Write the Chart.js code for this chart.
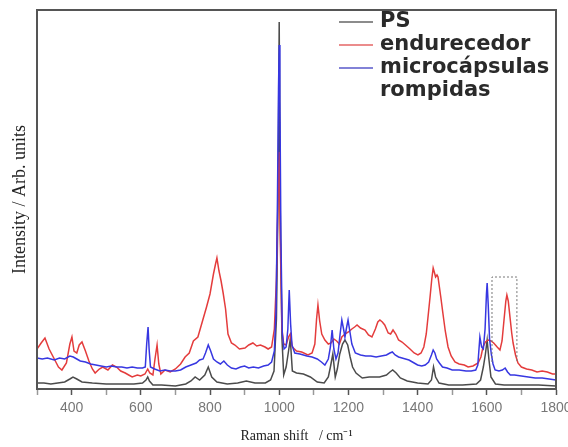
<!DOCTYPE html>
<html>
<head>
<meta charset="utf-8">
<script src="https://cdn.jsdelivr.net/npm/chart.js@4.4.1/dist/chart.umd.min.js"></script>
<style>
  html, body { margin: 0; padding: 0; background: #fff; }
  canvas { display: block; }
</style>
</head>
<body>
<canvas id="ramanChart" width="568" height="447"></canvas>
<script>
// Raman shift (cm-1) vs intensity (arb. units)
const psSpectrum = [
  [300, 6], [320, 6], [340, 5], [360, 6], [380, 7], [395, 10], [404, 12], [415, 10], [430, 7],
  [460, 6], [500, 5], [540, 5], [580, 5], [605, 6], [615, 9], [620, 12], [625, 8], [635, 4],
  [660, 4], [700, 3], [730, 5], [745, 8], [757, 12], [770, 9], [785, 14], [795, 22], [805, 12],
  [820, 7], [850, 5], [880, 6], [905, 8], [930, 6], [960, 6], [975, 9], [985, 18], [992, 70],
  [997, 200], [1000, 367], [1003, 180], [1008, 50], [1013, 14], [1020, 22], [1027, 38], [1032, 50],
  [1038, 18], [1050, 16], [1070, 15], [1090, 12], [1110, 7], [1130, 6], [1142, 12], [1148, 22],
  [1155, 35], [1162, 12], [1168, 20], [1175, 35], [1183, 45], [1190, 49], [1198, 44], [1205, 32],
  [1212, 22], [1222, 16], [1240, 11], [1260, 12], [1290, 12], [1310, 14], [1320, 17], [1328, 19],
  [1338, 16], [1350, 11], [1370, 8], [1400, 6], [1430, 5], [1440, 9], [1446, 22], [1452, 12],
  [1462, 6], [1490, 4], [1530, 4], [1570, 5], [1582, 9], [1590, 22], [1596, 35], [1601, 49],
  [1606, 30], [1612, 12], [1625, 5], [1650, 4], [1700, 4], [1750, 4], [1800, 3]
];

const hardenerSpectrum = [
  [300, 40], [312, 46], [323, 51], [335, 40], [350, 30], [362, 22], [372, 19], [385, 26], [395, 45],
  [401, 52], [407, 38], [415, 36], [422, 44], [430, 47], [440, 38], [450, 28], [460, 20], [468, 16],
  [480, 20], [490, 22], [505, 19], [518, 24], [530, 22], [542, 18], [555, 16], [565, 14], [575, 12],
  [590, 14], [600, 13], [612, 15], [620, 20], [626, 16], [635, 14], [641, 30], [647, 44], [652, 25],
  [658, 15], [670, 19], [685, 17], [700, 20], [715, 25], [728, 32], [740, 36], [752, 48], [765, 52],
  [780, 70], [790, 82], [800, 95], [810, 115], [816, 125], [820, 131], [826, 118], [832, 108],
  [838, 96], [845, 80], [852, 55], [862, 46], [872, 44], [885, 40], [901, 41], [912, 44], [924, 46],
  [935, 43], [946, 44], [959, 42], [968, 40], [978, 42], [986, 60], [992, 110], [997, 200],
  [1000, 237], [1003, 150], [1008, 60], [1013, 45], [1020, 44], [1027, 52], [1032, 55], [1038, 42],
  [1050, 38], [1065, 37], [1083, 34], [1095, 36], [1103, 45], [1108, 70], [1112, 84], [1117, 68],
  [1123, 55], [1132, 49], [1142, 45], [1150, 46], [1158, 50], [1166, 48], [1174, 45], [1181, 52],
  [1190, 55], [1200, 57], [1210, 60], [1218, 62], [1225, 64], [1235, 61], [1248, 59], [1258, 54],
  [1268, 52], [1278, 60], [1285, 67], [1291, 69], [1298, 67], [1305, 64], [1315, 56], [1322, 55],
  [1329, 59], [1337, 55], [1345, 49], [1355, 47], [1365, 44], [1378, 40], [1390, 36], [1401, 34],
  [1410, 36], [1418, 42], [1425, 55], [1431, 75], [1436, 92], [1441, 110], [1445, 121], [1449, 116],
  [1452, 112], [1456, 114], [1459, 112], [1463, 102], [1467, 92], [1473, 76], [1480, 58], [1488, 42],
  [1497, 33], [1508, 27], [1520, 25], [1535, 24], [1546, 22], [1560, 23], [1575, 26], [1583, 32],
  [1589, 42], [1596, 47], [1604, 49], [1612, 48], [1620, 46], [1630, 42], [1638, 39], [1644, 48],
  [1650, 70], [1655, 88], [1658, 94], [1662, 88], [1667, 72], [1672, 56], [1676, 46], [1683, 34],
  [1690, 26], [1700, 22], [1715, 20], [1730, 19], [1745, 17], [1760, 18], [1775, 17], [1790, 15],
  [1800, 15]
];

const brokenCapsSpectrum = [
  [300, 31], [315, 30], [330, 31], [350, 29], [365, 31], [380, 30], [395, 33], [405, 32], [415, 30],
  [425, 28], [440, 27], [455, 25], [470, 24], [485, 23], [500, 22], [515, 23], [530, 22], [545, 22],
  [560, 21], [575, 22], [590, 21], [605, 21], [613, 22], [617, 45], [621, 62], [624, 40], [628, 22],
  [640, 20], [655, 18], [670, 19], [685, 18], [700, 18], [715, 19], [730, 22], [745, 24], [760, 26],
  [770, 29], [780, 30], [787, 36], [795, 44], [802, 38], [810, 30], [820, 27], [830, 25], [840, 28],
  [850, 24], [862, 21], [875, 20], [888, 22], [900, 23], [912, 21], [925, 22], [940, 21], [955, 23],
  [968, 24], [978, 27], [986, 38], [991, 80], [995, 190], [998, 300], [1000, 344], [1002, 290],
  [1005, 150], [1009, 55], [1014, 40], [1020, 42], [1025, 60], [1029, 99], [1033, 65], [1037, 44],
  [1045, 36], [1060, 35], [1080, 33], [1095, 32], [1110, 30], [1122, 27], [1132, 24], [1142, 30],
  [1148, 42], [1153, 59], [1158, 40], [1164, 30], [1170, 36], [1176, 55], [1181, 69], [1186, 60],
  [1190, 52], [1195, 62], [1199, 69], [1204, 58], [1210, 45], [1220, 36], [1235, 34], [1250, 33],
  [1265, 33], [1280, 32], [1295, 33], [1310, 34], [1320, 36], [1327, 37], [1335, 34], [1345, 32],
  [1355, 31], [1365, 30], [1375, 29], [1385, 27], [1400, 24], [1412, 23], [1422, 24], [1432, 27],
  [1440, 34], [1445, 39], [1450, 36], [1455, 30], [1463, 26], [1472, 22], [1485, 21], [1500, 19],
  [1520, 19], [1540, 18], [1555, 18], [1568, 19], [1574, 24], [1580, 52], [1585, 42], [1590, 40],
  [1595, 60], [1599, 95], [1601, 106], [1604, 85], [1608, 50], [1613, 35], [1618, 25], [1624, 19],
  [1635, 18], [1645, 19], [1653, 21], [1660, 17], [1668, 14], [1680, 14], [1700, 13], [1720, 12],
  [1740, 11], [1760, 11], [1780, 10], [1800, 9]
];

// dotted box marking the 1660 band
const highlightBox = [[1615, 27], [1615, 112], [1687, 112], [1687, 27]];

const seriesLabels = ['PS', 'endurecedor', 'microcápsulas\nrompidas'];
const seriesColors = ['rgb(75,75,75)', 'rgb(228,60,60)', 'rgb(55,55,225)'];
const legendColors = ['rgb(140,140,140)', 'rgb(235,140,140)', 'rgb(130,130,215)'];

const xTitle = 'Raman shift   / cm\u207B\u00B9';
const yTitle = 'Intensity / Arb. units';

// frame on top and right like the original plot box
const frameBox = {
  id: 'frameBox',
  afterDatasetsDraw(chart) {
    const { ctx, chartArea: a } = chart;
    ctx.save();
    ctx.strokeStyle = '#555';
    ctx.lineWidth = 2;
    ctx.strokeRect(a.left, a.top, a.right - a.left, a.bottom - a.top);
    ctx.restore();
  }
};

// legend drawn inside the plot, top right
const insideLegend = {
  id: 'insideLegend',
  afterDraw(chart) {
    const ctx = chart.ctx;
    const rows = [22, 45, 68];
    ctx.save();
    ctx.font = 'bold 21px "DejaVu Sans", Arial, sans-serif';
    ctx.textBaseline = 'middle';
    ctx.fillStyle = '#2a2a2a';
    seriesLabels.forEach((label, i) => {
      ctx.strokeStyle = legendColors[i];
      ctx.lineWidth = 2;
      ctx.beginPath();
      ctx.moveTo(339, rows[i]);
      ctx.lineTo(373, rows[i]);
      ctx.stroke();
      label.split('\n').forEach((line, j) => {
        ctx.fillText(line, 380, rows[i] + j * 23);
      });
    });
    ctx.restore();
  }
};

const ctx = document.getElementById('ramanChart').getContext('2d');
new Chart(ctx, {
  type: 'line',
  data: {
    datasets: [
      { label: seriesLabels[0], data: psSpectrum, borderColor: seriesColors[0], borderWidth: 1.5, order: 3 },
      { label: seriesLabels[1], data: hardenerSpectrum, borderColor: seriesColors[1], borderWidth: 1.5, order: 2 },
      { label: seriesLabels[2], data: brokenCapsSpectrum, borderColor: seriesColors[2], borderWidth: 1.5, order: 1 },
      { label: '', data: highlightBox, borderColor: '#777', borderWidth: 1, borderDash: [2, 2], order: 0 }
    ]
  },
  options: {
    responsive: false,
    animation: false,
    devicePixelRatio: 1,
    layout: { padding: { top: 10, right: 12, left: 0, bottom: 0 } },
    elements: { point: { radius: 0 }, line: { tension: 0 } },
    plugins: { legend: { display: false }, tooltip: { enabled: false } },
    scales: {
      x: {
        type: 'linear',
        min: 300,
        max: 1800,
        grid: {
          drawOnChartArea: false, drawTicks: true, tickLength: 6, tickWidth: 1.5,
          tickColor: c => (c.tick && c.tick.value % 200 === 0 ? '#555' : '#999')
        },
        border: { display: true, color: '#555', width: 2 },
        ticks: {
          stepSize: 100,
          autoSkip: false,
          maxRotation: 0,
          padding: 5,
          color: '#777',
          font: { family: '"Liberation Sans", Arial, sans-serif', size: 14 },
          callback: v => (v % 200 === 0 ? String(v) : '')
        },
        title: {
          display: true,
          text: xTitle,
          color: '#222',
          font: { family: '"Liberation Serif", "Times New Roman", serif', size: 14 },
          padding: { top: 0, bottom: 2 }
        },
        afterFit: s => { s.height = 58; s.paddingLeft = 0; s.paddingRight = 0; }
      },
      y: {
        min: 0,
        max: 379,
        grid: { display: false },
        border: { display: true, color: '#555', width: 2 },
        ticks: { display: false },
        title: {
          display: true,
          text: yTitle,
          color: '#222',
          font: { family: '"Liberation Serif", "Times New Roman", serif', size: 18 },
          padding: { top: 9, bottom: 0 }
        },
        afterFit: s => { s.width = 37; }
      }
    }
  },
  plugins: [frameBox, insideLegend]
});
</script>
</body>
</html>
